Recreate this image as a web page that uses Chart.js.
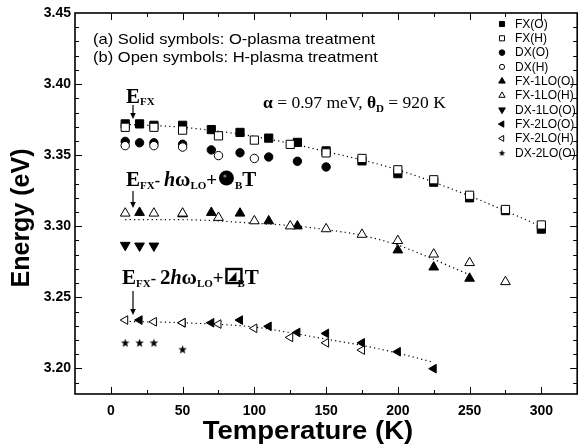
<!DOCTYPE html>
<html lang="en">
<head>
<meta charset="UTF-8">
<title>Energy vs Temperature</title>
<script src="https://cdn.jsdelivr.net/npm/chart.js"></script>
<style>
  html, body { margin: 0; padding: 0; background: #fff; }
  #wrap { width: 584px; height: 448px; }
</style>
</head>
<body>
<div id="wrap"><canvas id="chart" width="584" height="448"></canvas></div>
<script>
// peak energies (eV) vs temperature (K)
const fxO_T = [10, 20, 30, 50, 70, 90, 110, 130, 150, 175, 200, 225, 250, 275, 300];
const fxO_E = [3.372, 3.372, 3.371, 3.371, 3.368, 3.366, 3.362, 3.359, 3.353, 3.346, 3.337, 3.331, 3.320, 3.311, 3.298];
const fxH_T = [10, 30, 50, 75, 100, 125, 150, 175, 200, 225, 250, 275, 300];
const fxH_E = [3.3696, 3.3696, 3.3676, 3.3636, 3.3606, 3.3576, 3.3516, 3.3477, 3.3397, 3.3327, 3.3218, 3.3118, 3.3009];
const dxO_T = [10, 20, 30, 50, 70, 90, 110, 130, 150];
const dxO_E = [3.3597, 3.3587, 3.3587, 3.3577, 3.3537, 3.3517, 3.3487, 3.3457, 3.3417];
const dxH_T = [10, 30, 50, 75, 100];
const dxH_E = [3.3567, 3.3567, 3.3557, 3.3497, 3.3477];
const lo1O_T = [20, 50, 70, 90, 110, 130, 200, 225, 250];
const lo1O_E = [3.3096, 3.3086, 3.3096, 3.3091, 3.3037, 3.3001, 3.2832, 3.2712, 3.2633];
const lo1H_T = [10, 30, 50, 75, 100, 125, 150, 175, 200, 225, 250, 275];
const lo1H_E = [3.3091, 3.3091, 3.3091, 3.3061, 3.3037, 3.3001, 3.2981, 3.2942, 3.2898, 3.2803, 3.2743, 3.2609];
const dx1O_T = [10, 20, 30];
const dx1O_E = [3.2867, 3.2862, 3.2862];
const lo2O_T = [20, 50, 70, 90, 110, 130, 150, 175, 200, 225];
const lo2O_E = [3.234, 3.2321, 3.2321, 3.234, 3.2296, 3.2253, 3.2246, 3.218, 3.2117, 3.1998];
const lo2H_T = [10, 30, 50, 75, 100, 125, 150, 175];
const lo2H_E = [3.234, 3.2328, 3.2321, 3.2312, 3.2282, 3.2218, 3.218, 3.2129];
const dx2O_T = [10, 20, 30, 50];
const dx2O_E = [3.2181, 3.2181, 3.2181, 3.2135];

// dotted model curves
const fitFX_T = [10, 50, 100, 150, 200, 250, 300];
const fitFX_E = [3.3716, 3.3696, 3.3631, 3.3526, 3.3397, 3.3213, 3.2999];
const fit1_T = [10, 50, 100, 130, 150, 175, 200, 225, 250];
const fit1_E = [3.3046, 3.3046, 3.3021, 3.3001, 3.2976, 3.2936, 3.2867, 3.2767, 3.2658];
const fit2_T = [10, 50, 100, 125, 150, 175, 200, 225];
const fit2_E = [3.2331, 3.2321, 3.2291, 3.2251, 3.2206, 3.2162, 3.2107, 3.2043];

const xTicks = [0, 50, 100, 150, 200, 250, 300];
const yTicks = [3.20, 3.25, 3.30, 3.35, 3.40, 3.45];
const yTickLabels = ['3.20', '3.25', '3.30', '3.35', '3.40', '3.45'];

const SANS = '"Liberation Sans", Arial, sans-serif';
const SERIF = '"Liberation Serif", "Times New Roman", serif';

function pts(T, E) { return T.map((t, i) => ({ x: t, y: E[i] })); }

function starImage(r) {
  const c = document.createElement('canvas');
  c.width = c.height = Math.ceil(r * 2 + 2);
  const g = c.getContext('2d');
  const cx = c.width / 2, cy = c.height / 2 + 0.5;
  g.beginPath();
  for (let i = 0; i < 10; i++) {
    const rr = i % 2 === 0 ? r : r * 0.42;
    const a = -Math.PI / 2 + i * Math.PI / 5;
    g.lineTo(cx + rr * Math.cos(a), cy + rr * Math.sin(a));
  }
  g.closePath();
  g.fillStyle = '#000';
  g.fill();
  return c;
}
const starBig = starImage(4.5);
const starSmall = starImage(3.5);

function sym(label, T, E, style, fill, radius, rotation, order, legendRadius) {
  return {
    label, data: pts(T, E), showLine: false,
    pointStyle: style, pointRotation: rotation || 0,
    pointRadius: radius, pointBackgroundColor: fill ? '#000' : '#fff',
    pointBorderColor: '#000', pointBorderWidth: 1, order,
    legendRadius
  };
}
function fit(T, E) {
  return {
    label: '', data: pts(T, E), showLine: true, pointRadius: 0,
    borderColor: '#000', borderWidth: 1.2, borderDash: [1.2, 3.2],
    cubicInterpolationMode: 'monotone', order: 5, isFit: true
  };
}

const datasets = [
  sym('FX(O)', fxO_T, fxO_E, 'rect', true, 5.8, 0, 1, 3.6),
  sym('FX(H)', fxH_T, fxH_E, 'rect', false, 5.8, 0, 0, 3.6),
  sym('DX(O)', dxO_T, dxO_E, 'circle', true, 4.2, 0, 1, 2.8),
  sym('DX(H)', dxH_T, dxH_E, 'circle', false, 4.2, 0, 0, 2.6),
  sym('FX-1LO(O)', lo1O_T, lo1O_E, 'triangle', true, 5.6, 0, 1, 3.8),
  sym('FX-1LO(H)', lo1H_T, lo1H_E, 'triangle', false, 5.6, 0, 0, 3.6),
  sym('DX-1LO(O)', dx1O_T, dx1O_E, 'triangle', true, 5.6, 180, 1, 3.8),
  sym('FX-2LO(O)', lo2O_T, lo2O_E, 'triangle', true, 5, 270, 1, 3.6),
  sym('FX-2LO(H)', lo2H_T, lo2H_E, 'triangle', false, 5, 270, 0, 3.4),
  { label: 'DX-2LO(O)', data: pts(dx2O_T, dx2O_E), showLine: false, pointStyle: starBig,
    pointRadius: 4.5, order: 1, legendImage: starSmall },
  fit(fitFX_T, fitFX_E),
  fit(fit1_T, fit1_E),
  fit(fit2_T, fit2_E)
];

function drawRuns(ctx, x, y, runs) {
  ctx.textAlign = 'left';
  ctx.textBaseline = 'alphabetic';
  runs.forEach(r => {
    if (r.blob) {
      ctx.beginPath();
      ctx.arc(x + 7.5, y - 8, 7.5, 0, Math.PI * 2);
      ctx.fill();
      ctx.fillStyle = '#777';
      ctx.beginPath();
      ctx.arc(x + 6, y - 10, 1.6, 0, Math.PI * 2);
      ctx.fill();
      ctx.fillStyle = '#000';
      x += 16;
      return;
    }
    if (r.box) {
      ctx.lineWidth = 2.4;
      ctx.strokeRect(x + 1, y - 15, 15, 14);
      ctx.beginPath();
      ctx.moveTo(x + 3, y - 3); ctx.lineTo(x + 11, y - 12); ctx.lineTo(x + 11, y - 3);
      ctx.closePath(); ctx.fill();
      x += 12;
      return;
    }
    ctx.font = r.f;
    ctx.fillText(r.t, x, y + (r.dy || 0));
    x += ctx.measureText(r.t).width + (r.gap || 0);
  });
  return x;
}

// text drawn a little wider than its font, as in the source figure
function wideText(ctx, text, x, y, sx) {
  ctx.save();
  ctx.translate(x, y);
  ctx.scale(sx, 1);
  ctx.fillText(text, 0, 0);
  ctx.restore();
}

function arrow(ctx, x, y0, y1) {
  ctx.lineWidth = 1.2;
  ctx.beginPath(); ctx.moveTo(x, y0); ctx.lineTo(x, y1 - 5); ctx.stroke();
  ctx.beginPath(); ctx.moveTo(x - 2.8, y1 - 6); ctx.lineTo(x + 2.8, y1 - 6); ctx.lineTo(x, y1);
  ctx.closePath(); ctx.fill();
}

const decor = {
  id: 'decor',
  afterDraw(chart) {
    const { ctx, chartArea: a, scales: { x, y } } = chart;
    ctx.save();
    ctx.strokeStyle = '#000';
    ctx.fillStyle = '#000';

    // inward ticks on all four sides
    ctx.lineWidth = 1;
    ctx.beginPath();
    for (let v = 0; v <= 300; v += 25) {
      const px = Math.round(x.getPixelForValue(v)) + 0.5;
      const len = v % 50 === 0 ? 7 : 4;
      ctx.moveTo(px, a.bottom); ctx.lineTo(px, a.bottom - len);
      ctx.moveTo(px, a.top); ctx.lineTo(px, a.top + len);
    }
    for (let k = 319; k <= 344; k++) {
      const py = Math.round(y.getPixelForValue(k / 100)) + 0.5;
      const len = k % 5 === 0 ? 7 : 4;
      ctx.moveTo(a.left, py); ctx.lineTo(a.left + len, py);
      ctx.moveTo(a.right, py); ctx.lineTo(a.right - len, py);
    }
    ctx.stroke();

    // frame
    ctx.lineWidth = 1.6;
    ctx.strokeRect(a.left, a.top, a.right - a.left, a.bottom - a.top);

    // axis titles
    ctx.fillStyle = '#000';
    ctx.font = 'bold 25px ' + SANS;
    ctx.textAlign = 'center';
    ctx.textBaseline = 'middle';
    wideText(ctx, 'Temperature (K)', 308, 432, 1.1);
    ctx.save();
    ctx.translate(22, 218);
    ctx.rotate(-Math.PI / 2);
    ctx.fillText('Energy (eV)', 0, 0);
    ctx.restore();

    // legend
    ctx.textAlign = 'left';
    let row = 0;
    chart.data.datasets.forEach(ds => {
      if (ds.isFit) return;
      const ly = 24 + row * 14.3, lx = 502;
      if (ds.legendImage) {
        const im = ds.legendImage;
        ctx.drawImage(im, lx - im.width / 2, ly - im.height / 2);
      } else {
        ctx.fillStyle = ds.pointBackgroundColor;
        ctx.strokeStyle = '#000';
        ctx.lineWidth = 1;
        Chart.helpers.drawPoint(ctx, { pointStyle: ds.pointStyle, rotation: ds.pointRotation,
          radius: ds.legendRadius, borderWidth: 1 }, lx, ly);
      }
      ctx.fillStyle = '#000';
      ctx.font = '12px ' + SANS;
      ctx.textBaseline = 'middle';
      ctx.fillText(ds.label, 515, ly + 0.5);
      row++;
    });

    // annotations
    ctx.fillStyle = '#000';
    ctx.strokeStyle = '#000';
    ctx.font = '14.5px ' + SANS;
    ctx.textAlign = 'left';
    ctx.textBaseline = 'alphabetic';
    wideText(ctx, '(a) Solid symbols: O-plasma treatment', 93, 44, 1.14);
    wideText(ctx, '(b) Open symbols: H-plasma treatment', 93, 62, 1.14);

    const bE = 'bold 21px ' + SERIF, bS = 'bold 11px ' + SERIF;
    drawRuns(ctx, 126, 103, [{ t: 'E', f: bE }, { t: 'FX', f: bS, dy: 2 }]);
    arrow(ctx, 133, 105, 119);

    drawRuns(ctx, 263, 108, [
      { t: '\u03B1', f: 'bold 17.5px ' + SERIF }, { t: ' = 0.97 meV, ', f: '17.5px ' + SERIF },
      { t: '\u03B8', f: 'bold 17.5px ' + SERIF }, { t: 'D', f: 'bold 11px ' + SERIF, dy: 4 },
      { t: ' = 920 K', f: '17.5px ' + SERIF }
    ]);

    drawRuns(ctx, 126, 186, [
      { t: 'E', f: bE }, { t: 'FX', f: bS, dy: 3 }, { t: '- ', f: 'bold 16px ' + SERIF },
      { t: 'h', f: 'bold italic 20px ' + SERIF }, { t: '\u03C9', f: bE }, { t: 'LO', f: bS, dy: 3 },
      { t: '+ ', f: 'bold 19px ' + SERIF, gap: -3 }, { blob: true }, { t: 'B', f: bS, dy: 3 }, { t: 'T', f: bE }
    ]);
    arrow(ctx, 133, 191, 208);

    drawRuns(ctx, 122, 284, [
      { t: 'E', f: bE }, { t: 'FX', f: bS, dy: 3 }, { t: '- ', f: 'bold 16px ' + SERIF },
      { t: '2', f: bE }, { t: 'h', f: 'bold italic 20px ' + SERIF }, { t: '\u03C9', f: bE },
      { t: 'LO', f: bS, dy: 3 }, { t: '+ ', f: 'bold 19px ' + SERIF, gap: -3 }, { box: true },
      { t: 'B', f: bS, dy: 3 }, { t: 'T', f: bE }
    ]);
    arrow(ctx, 133, 291, 315);
    ctx.restore();
  }
};

new Chart(document.getElementById('chart'), {
  type: 'scatter',
  data: { datasets },
  options: {
    responsive: false,
    devicePixelRatio: 1,
    animation: false,
    layout: { padding: { top: 13, right: 4, left: 0, bottom: 0 } },
    plugins: { legend: { display: false }, tooltip: { enabled: false } },
    scales: {
      x: {
        type: 'linear', min: -25, max: 325,
        grid: { display: false, drawTicks: false },
        border: { display: false },
        afterBuildTicks: s => { s.ticks = xTicks.map(v => ({ value: v })); },
        afterFit: s => { s.height = 54; },
        ticks: { color: '#000', padding: 9, font: { family: SANS, size: 14, weight: 'bold' } }
      },
      y: {
        type: 'linear', min: 3.182, max: 3.45,
        grid: { display: false, drawTicks: false },
        border: { display: false },
        afterBuildTicks: s => { s.ticks = yTicks.map(v => ({ value: v })); },
        afterFit: s => { s.width = 75; },
        ticks: { color: '#000', padding: 4, font: { family: SANS, size: 14, weight: 'bold' },
          callback: (v, i) => yTickLabels[i] }
      }
    }
  },
  plugins: [decor]
});
</script>
</body>
</html>
